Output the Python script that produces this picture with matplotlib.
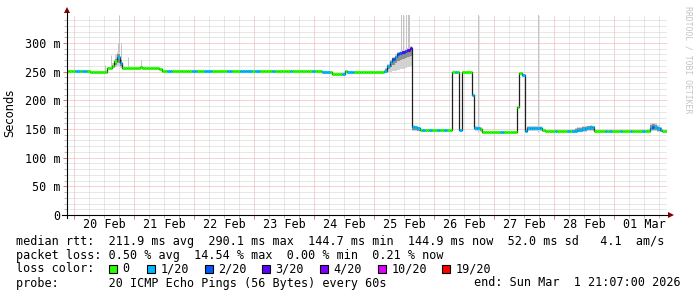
import numpy as np
import matplotlib
matplotlib.use("Agg")
import matplotlib.pyplot as plt
import matplotlib.dates as mdates
from matplotlib.ticker import MultipleLocator, FuncFormatter, NullFormatter
from matplotlib.patches import Rectangle

# time span of the graph
START = np.datetime64("2026-02-19T21:07")
END = np.datetime64("2026-03-01T21:07")

# hourly median rtt (ms), one row per 24 h starting at START
median_ms = [
    251, 251, 251, 251, 251, 251, 251, 251, 251, 250, 250, 250, 250, 250, 250, 250, 256, 256, 260, 268, 276, 266, 256, 256,
    256, 256, 256, 256, 256, 258, 256, 256, 256, 256, 256, 256, 256, 254, 252, 252, 252, 252, 252, 252, 252, 252, 252, 252,
    252, 252, 252, 252, 252, 252, 251, 252, 252, 252, 252, 252, 252, 252, 252, 252, 252, 252, 252, 252, 252, 252, 252, 252,
    252, 252, 252, 252, 252, 252, 252, 252, 252, 252, 252, 252, 252, 252, 252, 252, 252, 252, 252, 252, 252, 252, 252, 252,
    251, 251, 251, 251, 251, 251, 250, 250, 250, 250, 246, 246, 246, 246, 246, 252, 250, 250, 250, 250, 250, 250, 250, 250,
    250, 250, 250, 250, 250, 250, 250, 252, 260, 267, 272, 276, 280, 282, 284, 286, 288, 291, 153, 153, 151, 148, 148, 148,
    148, 148, 148, 148, 148, 148, 148, 148, 148, 148, 249, 249, 249, 148, 249, 249, 249, 249, 209, 152, 152, 150, 145, 145,
    145, 145, 145, 145, 145, 145, 145, 145, 145, 145, 145, 145, 188, 247, 245, 146, 152, 152, 152, 152, 152, 152, 148, 146,
    146, 146, 146, 146, 146, 146, 146, 146, 146, 146, 146, 147, 148, 149, 150, 151, 152, 153, 153, 146, 146, 146, 146, 146,
    146, 146, 146, 146, 146, 146, 146, 146, 146, 146, 146, 146, 146, 146, 146, 146, 146, 152, 154, 153, 151, 148, 146, 146,
]

# hourly loss bucket (index into loss_labels)
loss_code = [
    0, 0, 0, 1, 1, 0, 1, 1, 0, 0, 0, 0, 0, 0, 0, 0, 0, 0, 0, 0, 1, 1, 0, 0,
    0, 0, 0, 0, 0, 0, 0, 0, 0, 0, 0, 0, 0, 0, 0, 0, 1, 1, 0, 0, 0, 0, 0, 0,
    0, 0, 1, 1, 0, 0, 0, 1, 1, 1, 0, 0, 0, 0, 0, 0, 1, 1, 0, 0, 0, 1, 1, 1,
    1, 1, 0, 1, 1, 0, 0, 0, 0, 0, 1, 0, 0, 0, 0, 0, 0, 1, 0, 0, 0, 0, 0, 0,
    0, 0, 1, 0, 0, 0, 1, 1, 1, 0, 0, 0, 0, 0, 1, 0, 1, 1, 1, 0, 0, 0, 0, 0,
    0, 0, 0, 0, 0, 0, 0, 1, 1, 1, 2, 1, 2, 2, 3, 2, 3, 3, 1, 1, 1, 0, 1, 0,
    0, 1, 0, 0, 1, 0, 0, 1, 0, 0, 0, 1, 0, 1, 0, 0, 0, 0, 1, 1, 1, 0, 0, 0,
    0, 0, 0, 0, 0, 1, 1, 0, 0, 0, 0, 0, 0, 0, 1, 1, 1, 1, 1, 1, 1, 1, 0, 0,
    0, 0, 0, 1, 0, 0, 0, 0, 1, 0, 1, 1, 1, 1, 1, 1, 1, 1, 1, 0, 0, 0, 0, 1,
    0, 1, 0, 0, 0, 1, 0, 0, 0, 1, 0, 0, 0, 0, 1, 0, 0, 1, 2, 1, 1, 1, 0, 0,
]

# smoke (spread of the 20 pings), only where visible
smoke_hour = [18, 19, 20, 21,
              127, 128, 129, 130, 131, 132, 133, 134, 135, 136, 137, 138, 139, 140,
              163, 164, 165, 184, 185, 186, 187, 188, 189,
              202, 203, 204, 205, 206, 207, 208, 209, 210,
              232, 233, 234, 235, 236, 237]
smoke_lo = [256, 258, 260, 256,
            249, 250, 250, 251, 252, 253, 254, 255, 256, 258, 260, 146, 146, 146,
            146, 146, 145, 146, 146, 146, 146, 146, 146,
            145, 145, 145, 145, 145, 145, 146, 146, 146,
            145, 146, 146, 146, 145, 145]
smoke_hi = [266, 280, 284, 276,
            256, 264, 270, 276, 280, 284, 286, 288, 290, 292, 294, 157, 156, 154,
            156, 156, 154, 156, 156, 156, 156, 156, 156,
            150, 152, 153, 154, 155, 156, 156, 157, 156,
            150, 161, 161, 160, 157, 153]
core_lo = [258, 262, 266, 260,
           250, 254, 258, 262, 266, 268, 270, 272, 274, 276, 278, 148, 148, 147,
           148, 148, 146, 148, 148, 148, 148, 148, 148,
           145, 146, 146, 146, 147, 147, 148, 148, 148,
           145, 148, 149, 148, 147, 146]
core_hi = [262, 272, 280, 270,
           254, 262, 268, 274, 278, 282, 284, 286, 288, 290, 292, 155, 154, 152,
           154, 154, 152, 154, 154, 154, 154, 154, 154,
           148, 150, 151, 152, 153, 154, 155, 155, 154,
           148, 157, 158, 157, 154, 151]

# single pings far above the median
spike_hour = [15.2, 17.6, 20.2, 20.8, 21.4, 24.4, 29.6,
              133.5, 134.5, 135.5, 136.3, 136.9, 164.5, 188.5]
spike_lo = [250, 256, 266, 266, 266, 256, 256,
            282, 284, 286, 288, 291, 145, 145]
spike_hi = [262, 279, 300, 349, 300, 276, 270,
            350, 350, 350, 350, 350, 350, 350]

loss_labels = ["0", "1/20", "2/20", "3/20", "4/20", "10/20", "19/20"]
loss_colors = ["#26ff00", "#00b8ff", "#0059ff", "#5e00ff", "#7e00ff", "#dd00ff", "#ff0000"]

stats_lines = [
    "median rtt:  211.9 ms avg  290.1 ms max  144.7 ms min  144.9 ms now  52.0 ms sd   4.1  am/s",
    "packet loss: 0.50 % avg  14.54 % max  0.00 % min  0.21 % now",
    "loss color:",
    "probe:       20 ICMP Echo Pings (56 Bytes) every 60s",
]
end_text = "end: Sun Mar  1 21:07:00 2026"

W, H = 697, 297
MONO = "DejaVu Sans Mono"
FS = 8.5
Y_TOP = 349.5
AX_H = Y_TOP * 0.5733  # pixels

fig = plt.figure(figsize=(W / 100, H / 100), dpi=100, facecolor="white")
ax = fig.add_axes([67 / W, (H - 215) / H, 600 / W, AX_H / H])
ax.set_facecolor("white")

edges = mdates.date2num(START + np.arange(len(median_ms) + 1) * np.timedelta64(1, "h"))
x0 = edges[0]
hour = 1 / 24.0

# smoke
sh = x0 + np.array(smoke_hour) * hour
ax.bar(sh, np.array(smoke_hi) - np.array(smoke_lo), bottom=smoke_lo, width=hour,
       align="edge", color="#d2d2d2", linewidth=0, zorder=2)
ax.bar(sh, np.array(core_hi) - np.array(core_lo), bottom=core_lo, width=hour,
       align="edge", color="#8e8e8e", linewidth=0, zorder=2.1)
ax.vlines(x0 + np.array(spike_hour) * hour, spike_lo, spike_hi,
          color="#c4c4c4", linewidth=0.72, zorder=1.8)

# median line (dark) and loss-coloured segments
ax.step(edges, median_ms + [median_ms[-1]], where="post", color="#202020",
        linewidth=0.9, zorder=3)
seg_colors = [loss_colors[c] for c in loss_code]
ax.hlines(median_ms, edges[:-1], edges[1:], colors=seg_colors, linewidth=2.2, zorder=4)

# axes limits and grid
ax.set_xlim(mdates.date2num(START), mdates.date2num(END))
ax.set_ylim(0, Y_TOP)

ax.yaxis.set_major_locator(MultipleLocator(50))
ax.yaxis.set_minor_locator(MultipleLocator(10))
ax.yaxis.set_major_formatter(FuncFormatter(lambda v, p: "0" if v == 0 else f"{v:.0f} m"))
ax.xaxis.set_major_locator(mdates.DayLocator())
ax.xaxis.set_minor_locator(mdates.HourLocator(byhour=[0, 6, 12, 18]))
ax.xaxis.set_major_formatter(NullFormatter())

dots = (0, (1, 1))
ax.grid(which="minor", color="#d0d0d0", linestyle=dots, linewidth=0.72)
ax.grid(which="major", color="#e8a8a8", linestyle=dots, linewidth=0.72)
ax.set_axisbelow(True)

ax.tick_params(axis="y", which="major", length=3, width=0.72, color="#d08080",
               pad=1.5, labelsize=FS, labelfontfamily=MONO)
ax.tick_params(axis="y", which="minor", length=2, width=0.72, color="#b8b8b8")
ax.tick_params(axis="x", which="major", length=3, width=0.72, color="#d08080")
ax.tick_params(axis="x", which="minor", length=2, width=0.72, color="#b8b8b8")

for s in ax.spines.values():
    s.set_visible(False)

# axis lines with arrows
ax.plot([0, 0], [-0.015, 1.02], transform=ax.transAxes, color="black",
        linewidth=0.8, clip_on=False, zorder=5)
ax.plot([-0.008, 1.005], [0, 0], transform=ax.transAxes, color="black",
        linewidth=0.8, clip_on=False, zorder=5)
ax.plot(0, 1.022, marker="^", markersize=4.5, color="#7f0000", transform=ax.transAxes,
        clip_on=False, zorder=6, markeredgewidth=0)
ax.plot(1.007, 0, marker=">", markersize=4.5, color="#7f0000", transform=ax.transAxes,
        clip_on=False, zorder=6, markeredgewidth=0)

# day labels centred at noon
noon = np.arange(np.datetime64("2026-02-20"), np.datetime64("2026-03-02")) + np.timedelta64(12, "h")
for d in noon:
    xd = mdates.date2num(d)
    ax.text(xd, -(224 - 215) / AX_H, d.astype(object).strftime("%d %b"),
            transform=ax.get_xaxis_transform(), ha="center", va="center",
            fontsize=FS, family=MONO)

# side texts
fig.text(10 / W, 1 - 113 / H, "Seconds", rotation=90, ha="center", va="center",
         fontsize=8.3, family="DejaVu Sans")
fig.text(688 / W, 1 - 60 / H, "RRDTOOL / TOBI OETIKER", rotation=270, ha="center",
         va="center", fontsize=5.9, family=MONO, color="#c4c4c4")

# legend block
line_y = [241, 255, 269, 283]
for txt, yy in zip(stats_lines, line_y):
    fig.text(16 / W, 1 - yy / H, txt, ha="left", va="center", fontsize=FS, family=MONO)
fig.text(681 / W, 1 - 283 / H, end_text, ha="right", va="center", fontsize=FS, family=MONO)

box_x = [109, 147, 204.5, 262, 320, 378, 442]
for bx, lab, col in zip(box_x, loss_labels, loss_colors):
    fig.patches.append(Rectangle((bx / W, 1 - 273 / H), 8 / W, 8 / H, transform=fig.transFigure,
                                 facecolor=col, edgecolor="black", linewidth=0.8))
    fig.text((bx + 13.5) / W, 1 - 269 / H, lab, ha="left", va="center", fontsize=FS, family=MONO)

fig.savefig("out.png", dpi=100, facecolor="white")
